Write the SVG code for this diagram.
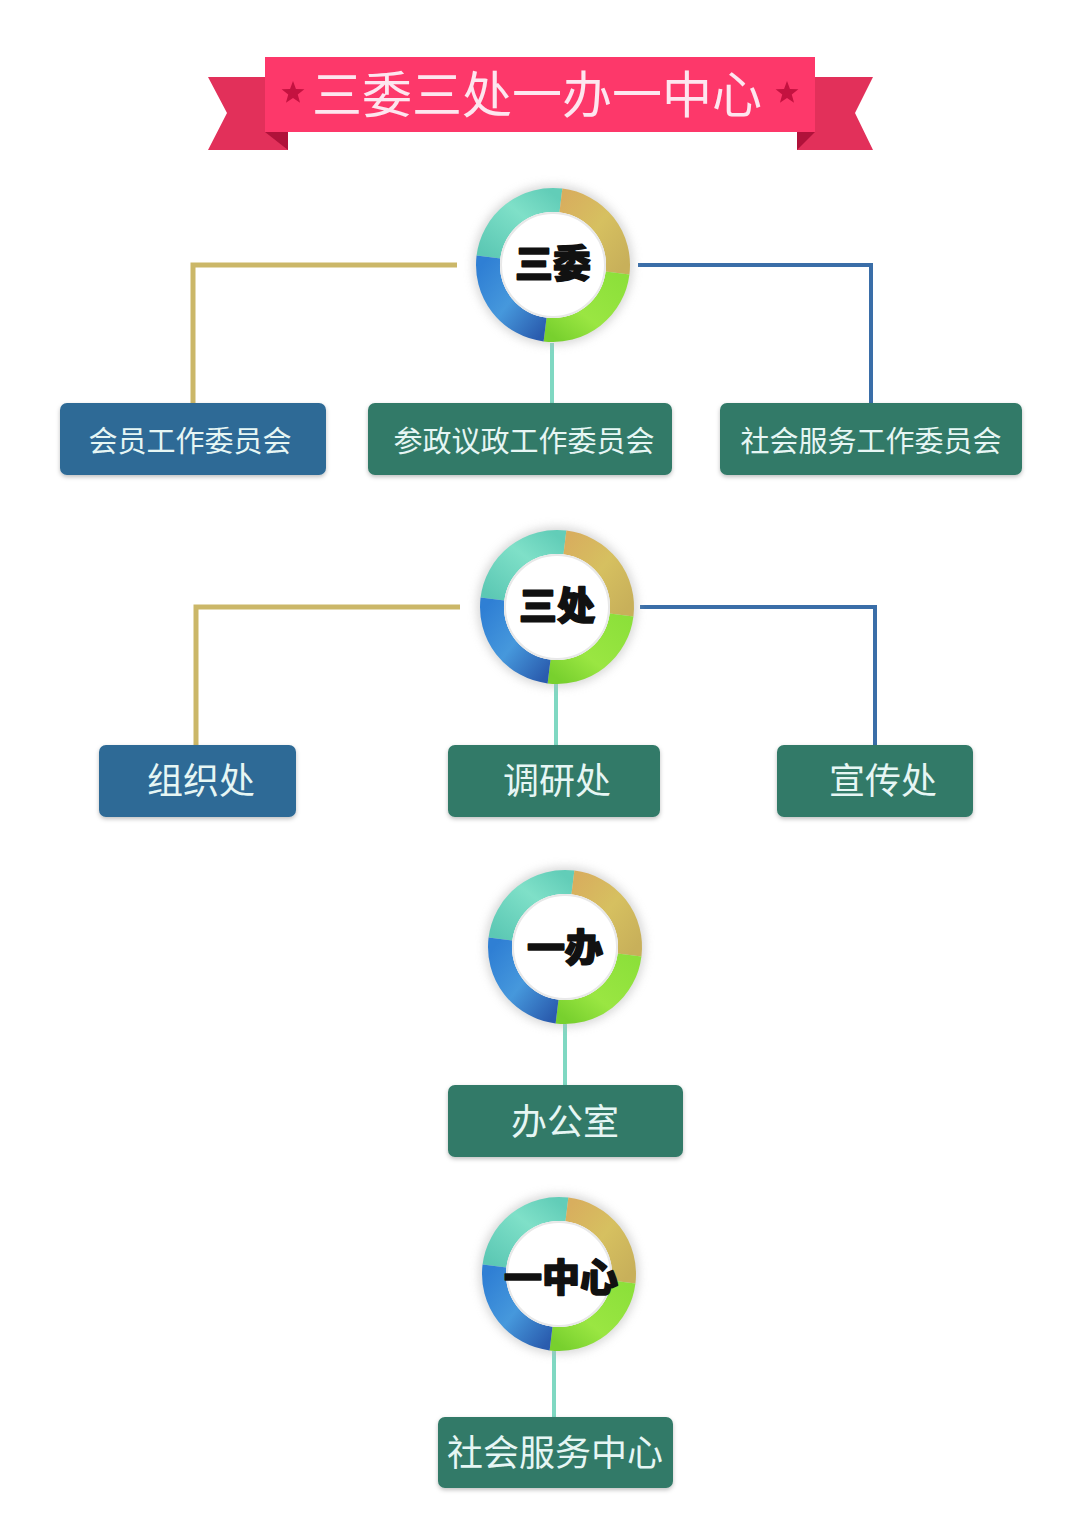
<svg xmlns="http://www.w3.org/2000/svg" xmlns:xlink="http://www.w3.org/1999/xlink" width="1080" height="1527" viewBox="0 0 1080 1527">
<defs>
<style>
.box-blue{fill:#2e6a96}
.box-green{fill:#327a68}
.boxtxt{font-family:"Noto Sans CJK SC","Noto Sans",sans-serif;fill:#e6f6f4;text-anchor:middle}
.ctxt{font-family:"Noto Sans CJK SC","Noto Sans",sans-serif;font-weight:900;font-size:38px;fill:#111;stroke:#111;stroke-width:1.6;stroke-linejoin:round;text-anchor:middle}
.gold{stroke:#cbb768;stroke-width:5;fill:none}
.blue{stroke:#3a6ea8;stroke-width:4;fill:none}
.teal{stroke:#7fd8c2;stroke-width:4;fill:none}
.seg{fill:none;stroke-width:24}
</style>
<linearGradient id="gTeal" x1="0" y1="1" x2="1" y2="0">
<stop offset="0" stop-color="#5cc8b4"/><stop offset="0.6" stop-color="#7fe0c8"/><stop offset="1" stop-color="#62cdb8"/>
</linearGradient>
<linearGradient id="gGold" x1="0" y1="0" x2="1" y2="1">
<stop offset="0" stop-color="#d8ae5e"/><stop offset="0.5" stop-color="#d6c060"/><stop offset="1" stop-color="#c8b05a"/>
</linearGradient>
<linearGradient id="gGreen" x1="1" y1="0" x2="0" y2="1">
<stop offset="0" stop-color="#8ce03a"/><stop offset="0.6" stop-color="#9ae642"/><stop offset="1" stop-color="#78d02e"/>
</linearGradient>
<linearGradient id="gBlue" x1="0" y1="0" x2="1" y2="1">
<stop offset="0" stop-color="#2f7fd4"/><stop offset="0.5" stop-color="#4698dc"/><stop offset="1" stop-color="#2a5cae"/>
</linearGradient>
<filter id="halo" x="-30%" y="-30%" width="160%" height="160%">
<feGaussianBlur stdDeviation="5"/>
</filter>
<filter id="shadow" x="-10%" y="-20%" width="120%" height="150%">
<feDropShadow dx="0" dy="2" stdDeviation="2" flood-color="#000" flood-opacity="0.25"/>
</filter>
<g id="ring">
<circle r="80" fill="#b8b8b8" opacity="0.55" filter="url(#halo)"/>
<path class="seg" stroke="url(#gTeal)" d="M -64.51 -7.92 A 65 65 0 0 1 7.92 -64.51"/>
<path class="seg" stroke="url(#gGold)" d="M 7.92 -64.51 A 65 65 0 0 1 64.51 7.92"/>
<path class="seg" stroke="url(#gGreen)" d="M 64.51 7.92 A 65 65 0 0 1 -7.92 64.51"/>
<path class="seg" stroke="url(#gBlue)" d="M -7.92 64.51 A 65 65 0 0 1 -64.51 -7.92"/>
<circle r="53" fill="#ffffff"/>
<circle r="52" fill="none" stroke="#e8e8e8" stroke-width="2"/>
</g>
<polygon id="star" points="0,-12 2.94,-4.05 11.41,-3.71 4.76,1.55 7.05,9.71 0,5 -7.05,9.71 -4.76,1.55 -11.41,-3.71 -2.94,-4.05" fill="#c41240"/>
</defs>
<rect width="1080" height="1527" fill="#ffffff"/>

<g id="title">
<polygon points="208,77 288,77 288,150 208,150 227,113" fill="#e2305a"/>
<polygon points="873,77 797,77 797,150 873,150 855,113" fill="#e2305a"/>
<polygon points="265,132 288,132 288,150" fill="#b0123a"/>
<polygon points="815,132 797,132 797,150" fill="#b0123a"/>
<rect x="265" y="57" width="550" height="75" fill="#fd386a"/>
<use xlink:href="#star" x="293" y="93"/>
<use xlink:href="#star" x="787" y="93"/>
<text x="537" y="113" font-family="'Noto Sans CJK SC','Noto Sans',sans-serif" font-size="50" fill="#fde6ef" text-anchor="middle">三委三处一办一中心</text>
</g>

<g id="connectors">
<polyline class="gold" points="457,265 193,265 193,403"/>
<polyline class="blue" points="638,265 871,265 871,403"/>
<line class="teal" x1="552" y1="343" x2="552" y2="403"/>
<polyline class="gold" points="460,607 196,607 196,745"/>
<polyline class="blue" points="640,607 875,607 875,745"/>
<line class="teal" x1="556" y1="684" x2="556" y2="745"/>
<line class="teal" x1="565" y1="1024" x2="565" y2="1085"/>
<line class="teal" x1="554" y1="1351" x2="554" y2="1417"/>
</g>

<g id="node-sanwei">
<use xlink:href="#ring" x="553" y="265"/>
<text class="ctxt" x="553" y="277">三委</text>
</g>
<g id="node-sanchu">
<use xlink:href="#ring" x="557" y="607"/>
<text class="ctxt" x="557" y="619">三处</text>
</g>
<g id="node-yiban">
<use xlink:href="#ring" x="565" y="947"/>
<text class="ctxt" x="565" y="961">一办</text>
</g>
<g id="node-yizhongxin">
<use xlink:href="#ring" x="559" y="1274"/>
<text class="ctxt" x="561" y="1291">一中心</text>
</g>

<g id="node-huiyuan">
<rect class="box-blue" x="60" y="403" width="266" height="72" rx="7" filter="url(#shadow)"/>
<text class="boxtxt" x="190" y="452" font-size="29">会员工作委员会</text>
</g>
<g id="node-canzheng">
<rect class="box-green" x="368" y="403" width="304" height="72" rx="7" filter="url(#shadow)"/>
<text class="boxtxt" x="524" y="452" font-size="29">参政议政工作委员会</text>
</g>
<g id="node-shehuifuwu-wei">
<rect class="box-green" x="720" y="403" width="302" height="72" rx="7" filter="url(#shadow)"/>
<text class="boxtxt" x="871" y="452" font-size="29">社会服务工作委员会</text>
</g>

<g id="node-zuzhi">
<rect class="box-blue" x="99" y="745" width="197" height="72" rx="7" filter="url(#shadow)"/>
<text class="boxtxt" x="201" y="794" font-size="36">组织处</text>
</g>
<g id="node-diaoyan">
<rect class="box-green" x="448" y="745" width="212" height="72" rx="7" filter="url(#shadow)"/>
<text class="boxtxt" x="557" y="794" font-size="36">调研处</text>
</g>
<g id="node-xuanchuan">
<rect class="box-green" x="777" y="745" width="196" height="72" rx="7" filter="url(#shadow)"/>
<text class="boxtxt" x="883" y="794" font-size="36">宣传处</text>
</g>

<g id="node-bangongshi">
<rect class="box-green" x="448" y="1085" width="235" height="72" rx="7" filter="url(#shadow)"/>
<text class="boxtxt" x="565" y="1135" font-size="36">办公室</text>
</g>

<g id="node-shehuifuwu-zhongxin">
<rect class="box-green" x="438" y="1417" width="235" height="71" rx="7" filter="url(#shadow)"/>
<text class="boxtxt" x="555" y="1466" font-size="36">社会服务中心</text>
</g>
</svg>
